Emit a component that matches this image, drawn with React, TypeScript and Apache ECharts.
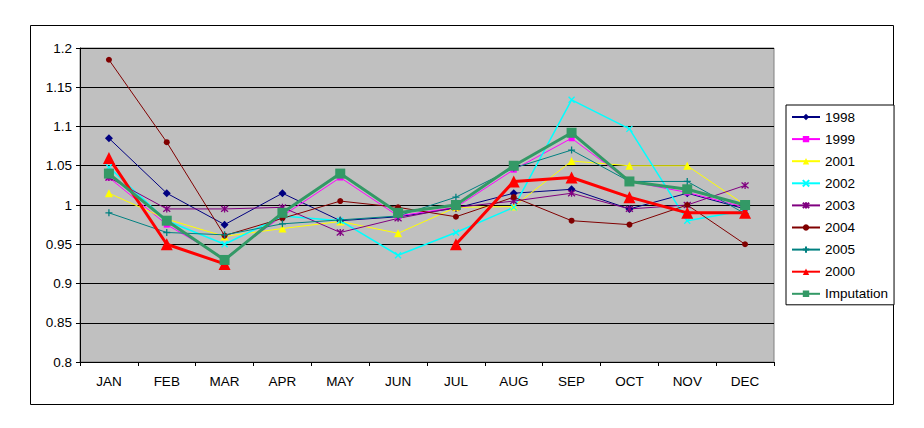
import React, { useEffect, useRef } from "react";
import * as echarts from "echarts";

const months = ["JAN", "FEB", "MAR", "APR", "MAY", "JUN", "JUL", "AUG", "SEP", "OCT", "NOV", "DEC"];
const s1998 = [1.085, 1.015, 0.975, 1.015, 0.98, 0.985, 0.996, 1.015, 1.02, 0.995, 1.015, 0.995];
const s1999 = [1.035, 0.975, 0.932, 0.986, 1.035, 0.986, 0.997, 1.045, 1.085, 1.03, 1.016, 0.997];
const s2001 = [1.015, 0.982, 0.96, 0.97, 0.979, 0.964, 0.997, 0.998, 1.056, 1.05, 1.05, 1.0];
const s2002 = [1.048, 0.98, 0.95, 0.986, 0.98, 0.936, 0.965, 0.997, 1.134, 1.097, 0.98, 0.993];
const s2003 = [1.035, 0.995, 0.995, 0.997, 0.965, 0.983, 0.997, 1.005, 1.015, 0.995, 1.0, 1.025];
const s2004 = [1.185, 1.08, 0.961, 0.983, 1.005, 0.997, 0.985, 1.01, 0.98, 0.975, 1.0, 0.95];
const s2005 = [0.99, 0.965, 0.962, 0.976, 0.981, 0.986, 1.01, 1.047, 1.07, 1.03, 1.03, 0.989];
const s2000 = [1.06, 0.95, 0.925, null, null, null, 0.95, 1.03, 1.035, 1.01, 0.99, 0.99];
const imputation = [1.04, 0.98, 0.93, 0.99, 1.04, 0.99, 1.0, 1.05, 1.092, 1.03, 1.02, 1.0];

const FONT = "'Liberation Sans', Arial, sans-serif";
const X_PATH = "path://M0,0L10,10M10,0L0,10";
const STAR_PATH = "path://M0,0L10,10M10,0L0,10M5,-1L5,11";
const PLUS_PATH = "path://M5,0L5,10M0,5L10,5";

function mk(name: string, data: (number | null)[], color: string, symbol: string, size: number, width: number, stroke = false) {
  return {
    name,
    type: "line",
    data,
    symbol,
    symbolSize: size,
    showSymbol: true,
    showAllSymbol: true,
    connectNulls: false,
    lineStyle: { color, width },
    itemStyle: stroke
      ? { color, borderColor: color, borderWidth: 1.3 }
      : { color, borderWidth: 0 },
    emphasis: { disabled: true },
  };
}

export default function App() {
  const ref = useRef<HTMLDivElement>(null);
  useEffect(() => {
    if (!ref.current) return;
    const chart = echarts.init(ref.current, undefined, { renderer: "svg" });
    chart.setOption({
      animation: false,
      backgroundColor: "#ffffff",
      textStyle: { fontFamily: FONT },
      grid: {
        left: 80,
        right: 150,
        top: 48,
        bottom: 66,
        show: true,
        backgroundColor: "#C0C0C0",
        borderColor: "#808080",
        borderWidth: 1,
      },
      graphic: [
        {
          type: "rect",
          z: -10,
          shape: { x: 30.5, y: 25.5, width: 863, height: 379 },
          style: { fill: "none", stroke: "#000", lineWidth: 1 },
          silent: true,
        },
      ],
      legend: {
        orient: "vertical",
        left: 786,
        top: 105,
        width: 105,
        padding: [5, 6, 4, 5],
        itemWidth: 28,
        itemHeight: 8,
        itemGap: 8.1,
        borderColor: "#000",
        borderWidth: 1,
        backgroundColor: "#fff",
        selectedMode: false,
        textStyle: { fontFamily: FONT, fontSize: 13.5, color: "#000", lineHeight: 14 },
      },
      xAxis: {
        type: "category",
        data: months,
        boundaryGap: true,
        axisLine: { show: true, lineStyle: { color: "#000", width: 1 } },
        axisTick: { show: true, inside: false, length: 4, lineStyle: { color: "#000" } },
        axisLabel: { color: "#000", fontSize: 13.5, fontFamily: FONT, margin: 12 },
        splitLine: { show: false },
      },
      yAxis: {
        type: "value",
        min: 0.8,
        max: 1.2,
        interval: 0.05,
        axisLine: { show: true, lineStyle: { color: "#000", width: 1 } },
        axisTick: { show: true, inside: false, length: 4, lineStyle: { color: "#000" } },
        axisLabel: { color: "#000", fontSize: 13.5, fontFamily: FONT, margin: 8 },
        splitLine: { show: true, lineStyle: { color: "#000", width: 1 } },
      },
      series: [
        mk("1998", s1998, "#000080", "diamond", 8, 1),
        mk("1999", s1999, "#FF00FF", "rect", 6, 1),
        mk("2001", s2001, "#FFFF00", "triangle", 8, 1),
        mk("2002", s2002, "#00FFFF", X_PATH, 6, 1.5, true),
        mk("2003", s2003, "#800080", STAR_PATH, 7, 1, true),
        mk("2004", s2004, "#800000", "circle", 6, 1),
        mk("2005", s2005, "#008080", PLUS_PATH, 7, 1, true),
        mk("2000", s2000, "#FF0000", "triangle", 12, 3),
        mk("Imputation", imputation, "#339966", "rect", 10, 3),
      ],
    });
    return () => chart.dispose();
  }, []);
  return (
    <div
      ref={ref}
      style={{ position: "fixed", left: 0, top: 0, width: 924, height: 428 }}
    />
  );
}
